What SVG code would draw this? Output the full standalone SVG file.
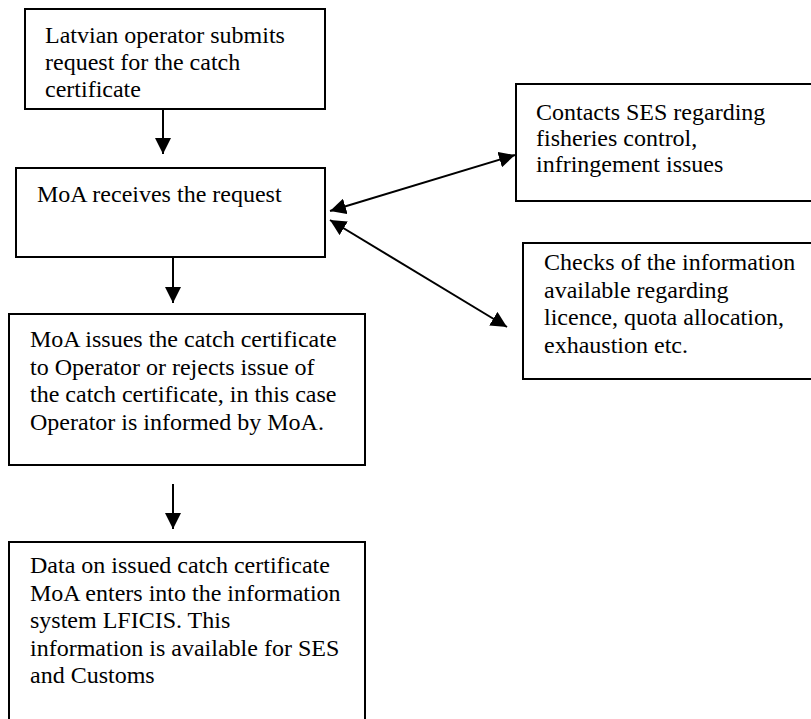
<svg xmlns="http://www.w3.org/2000/svg" width="811" height="719" viewBox="0 0 811 719">
<style>
  .box { fill: #fff; stroke: #000; stroke-width: 2; }
  .t { font-family: "Liberation Serif", "Times New Roman", Times, "DejaVu Serif", serif; font-size: 24px; fill: #000; }
  .c { stroke: #000; stroke-width: 2; fill: none; }
</style>
<defs>
  <marker id="ah" markerUnits="userSpaceOnUse" markerWidth="16" markerHeight="16" viewBox="0 0 14 14" refX="14" refY="7" orient="auto-start-reverse">
    <path d="M0,0 L14,7 L0,14 Z" fill="#000"/>
  </marker>
</defs>
<rect width="811" height="719" fill="#fff"/>
<g id="n1">
  <rect class="box" x="25" y="9" width="300" height="100"/>
  <text class="t" x="45" y="43">Latvian operator submits</text>
  <text class="t" x="45" y="70">request for the catch</text>
  <text class="t" x="45" y="97">certificate</text>
</g>
<g id="n2">
  <rect class="box" x="16" y="168" width="309" height="89"/>
  <text class="t" x="37" y="202">MoA receives the request</text>
</g>
<g id="n3">
  <rect class="box" x="9" y="314" width="356" height="151"/>
  <text class="t" x="30" y="347">MoA issues the catch certificate</text>
  <text class="t" x="30" y="374.5">to Operator or rejects issue of</text>
  <text class="t" x="30" y="402">the catch certificate, in this case</text>
  <text class="t" x="30" y="429.5">Operator is informed by MoA.</text>
</g>
<g id="n4">
  <rect class="box" x="9" y="542" width="356" height="190"/>
  <text class="t" x="30" y="573">Data on issued catch certificate</text>
  <text class="t" x="30" y="600.5">MoA enters into the information</text>
  <text class="t" x="30" y="628">system LFICIS. This</text>
  <text class="t" x="30" y="655.5">information is available for SES</text>
  <text class="t" x="30" y="683">and Customs</text>
</g>
<g id="n5">
  <rect class="box" x="516" y="84" width="310" height="117"/>
  <text class="t" x="536" y="120">Contacts SES regarding</text>
  <text class="t" x="536" y="146">fisheries control,</text>
  <text class="t" x="536" y="172">infringement issues</text>
</g>
<g id="n6">
  <rect class="box" x="523" y="243" width="310" height="136"/>
  <text class="t" x="544" y="270">Checks of the information</text>
  <text class="t" x="544" y="297.5">available regarding</text>
  <text class="t" x="544" y="325">licence, quota allocation,</text>
  <text class="t" x="544" y="352.5">exhaustion etc.</text>
</g>
<g id="connectors">
  <line class="c" x1="163" y1="109" x2="163" y2="154" marker-end="url(#ah)"/>
  <line class="c" x1="173" y1="257" x2="173" y2="303" marker-end="url(#ah)"/>
  <line class="c" x1="173" y1="484" x2="173" y2="529" marker-end="url(#ah)"/>
  <line class="c" x1="330" y1="211" x2="515" y2="155" marker-start="url(#ah)" marker-end="url(#ah)"/>
  <line class="c" x1="330" y1="220" x2="507" y2="327" marker-start="url(#ah)" marker-end="url(#ah)"/>
</g>
</svg>
